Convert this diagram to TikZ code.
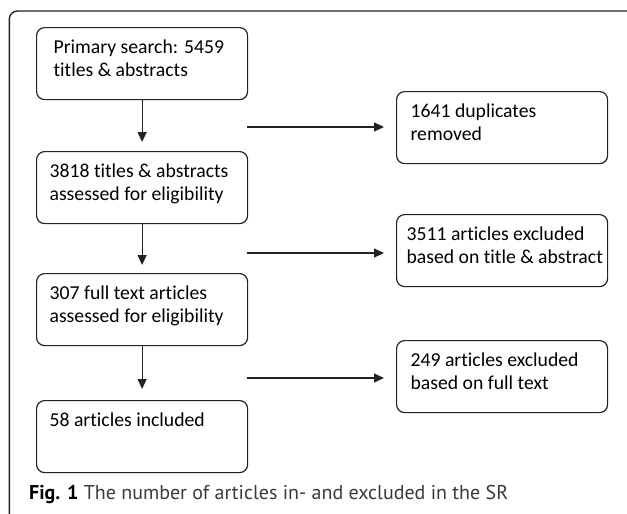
\documentclass[tikz,border=0pt]{standalone}
\usepackage{fontspec}
\setmainfont{Carlito}[Ligatures=NoCommon]
\newfontfamily\capfont{PT Sans}
\usetikzlibrary{arrows.meta}
\definecolor{ink}{HTML}{222222}
\definecolor{captext}{HTML}{3A3A3A}
\newcommand{\bt}[2][13pt]{\parbox[c][72pt][t]{211pt}{\raggedright\leftskip=#1\relax\baselineskip=23pt\rule{0pt}{26pt}#2}}
\tikzset{
  flowbox/.style={draw=ink, line width=1.2pt, rounded corners=8pt, anchor=north west,
    inner sep=0pt, font=\fontsize{19.7}{23}\selectfont, text=black},
  flowarrow/.style={draw=ink, line width=1.1pt, -{Triangle[length=10pt,width=9pt]}},
  frameline/.style={draw=ink, line width=1.4pt, rounded corners=8pt}
}
\begin{document}
\begin{tikzpicture}[x=1pt,y=-1pt]
\useasboundingbox (0,0) rectangle (627,514);
\draw[frameline] (9.3,516) -- (9.3,11) -- (630,11);
\node[flowbox] (b1) at (36,27) {\bt[17pt]{Primary search: 5459\\titles \& abstracts}};
\node[flowbox] (b2) at (36,151) {\bt{3818 titles \& abstracts\\assessed for eligibility}};
\node[flowbox] (b3) at (36,273) {\bt{307 full text articles\\assessed for eligibility}};
\node[flowbox] (b4) at (36,400) {\bt{58 articles included}};
\node[flowbox] (r1) at (396,91) {\bt[14pt]{1641 duplicates\\removed}};
\node[flowbox] (r2) at (396,214) {\bt[10pt]{3511 articles excluded\\based on title \& abstract}};
\node[flowbox] (r3) at (396,340) {\bt[14pt]{249 articles excluded\\based on full text}};
\draw[flowarrow, shorten >=9pt] (b1.south) -- (b2.north);
\draw[flowarrow, shorten >=8pt] (b2.south) -- (b3.north);
\draw[flowarrow, shorten >=11pt] (b3.south) -- (b4.north);
\coordinate (h1) at (247,127);
\coordinate (h2) at (247,253);
\coordinate (h3) at (247,378);
\draw[flowarrow, shorten >=12pt] (h1) -- (r1.west |- h1);
\draw[flowarrow, shorten >=12pt] (h2) -- (r2.west |- h2);
\draw[flowarrow, shorten >=12pt] (h3) -- (r3.west |- h3);
\node[anchor=base west, inner sep=0pt, font=\capfont\fontsize{20}{24}\selectfont] (cap) at (29,499)
  {\textbf{Fig. 1} \textcolor{captext}{The number of articles in- and excluded in the SR}};
\end{tikzpicture}
\end{document}
